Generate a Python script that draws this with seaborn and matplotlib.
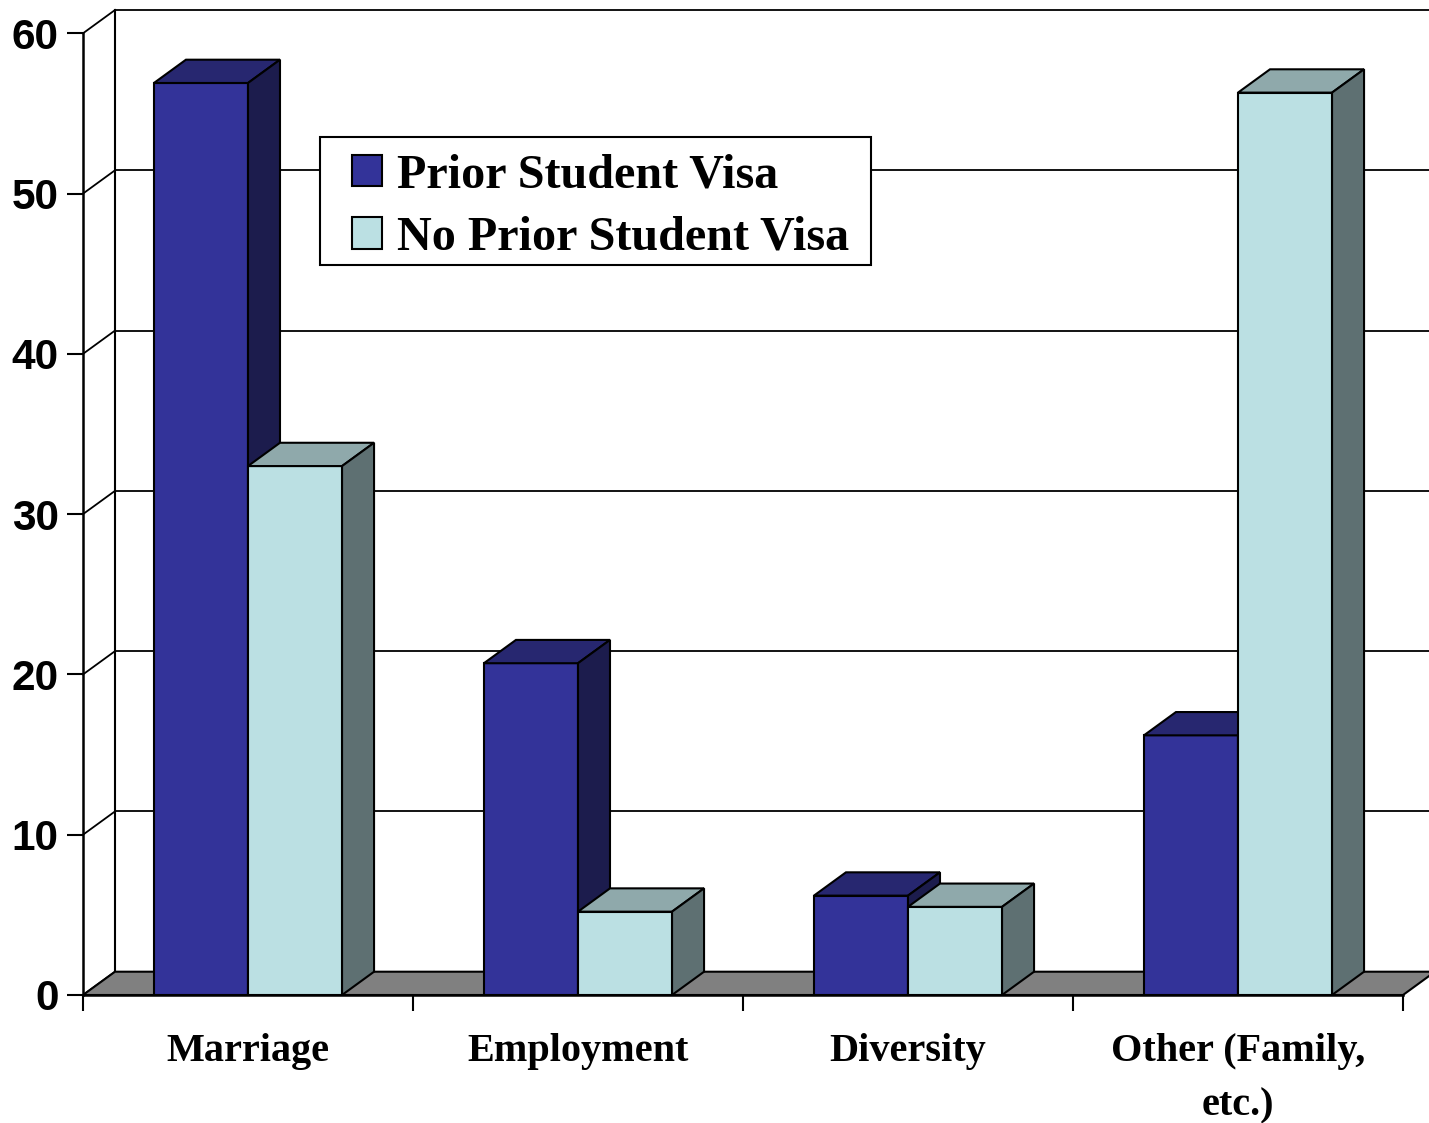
import matplotlib
matplotlib.use("Agg")
import matplotlib.pyplot as plt
from matplotlib.patches import Polygon, Patch, Rectangle
import numpy as np
import pandas as pd
import seaborn as sns

# Chart data: share of green-card holders by admission category (%)
categories = ["Marriage", "Employment", "Diversity", "Other (Family,\netc.)"]
series_names = ["Prior Student Visa", "No Prior Student Visa"]
prior_student_visa = [56.9, 20.7, 6.2, 16.2]
no_prior_student_visa = [33.0, 5.2, 5.5, 56.3]
y_ticks = [0, 10, 20, 30, 40, 50, 60]

# Face colours: front, top (lighter shade), side (darker shade)
front_colors = ["#333399", "#BBE0E3"]
top_colors = ["#272770", "#8FA9AB"]
side_colors = ["#1C1C4D", "#5E7072"]

df = pd.DataFrame({
    "category": categories * 2,
    "series": [series_names[0]] * 4 + [series_names[1]] * 4,
    "value": prior_student_visa + no_prior_student_visa,
})

W, H = 1429, 1123
fig = plt.figure(figsize=(W / 100, H / 100), dpi=100)
ax = fig.add_axes([83 / W, (H - 995) / H, 1320 / W, 961.7 / H])

sns.barplot(data=df, x="category", y="value", hue="series",
            order=categories, hue_order=series_names,
            palette=front_colors, saturation=1, width=0.57, gap=0,
            edgecolor="black", linewidth=1.5, legend=False, ax=ax)

ax.set_xlim(-0.5, 3.5)
ax.set_ylim(0, 60)

# depth offset of the pseudo-3D box (data units)
dx = 32 / 330
dy = 23.3 / 16.03

# back wall gridlines, wall edge and side-wall diagonals
x_end = 3.5 + dx + 0.3
for v in y_ticks:
    ax.plot([-0.5 + dx, x_end], [v + dy, v + dy], color="black", lw=1.3,
            zorder=1, clip_on=False, solid_capstyle="butt")
    ax.plot([-0.5, -0.5 + dx], [v, v + dy], color="black", lw=1.3,
            zorder=1, clip_on=False)
ax.plot([-0.5 + dx, -0.5 + dx], [dy, 60 + dy], color="black", lw=1.5,
        zorder=1, clip_on=False)

# floor
floor = Polygon([(-0.5, 0), (3.5, 0), (3.5 + dx, dy), (-0.5 + dx, dy)],
                closed=True, facecolor="#808080", edgecolor="black",
                lw=1.5, zorder=1.5, clip_on=False)
ax.add_patch(floor)

# top and side faces for each bar, drawn left to right
bars = []
for k, cont in enumerate(ax.containers):
    for rect in cont:
        bars.append((rect.get_x(), rect, k))
bars.sort(key=lambda t: t[0])
for i, (x0, rect, k) in enumerate(bars):
    z = 3 + i * 0.1
    rect.set_zorder(z)
    w = rect.get_width()
    h = rect.get_height()
    top = Polygon([(x0, h), (x0 + w, h), (x0 + w + dx, h + dy), (x0 + dx, h + dy)],
                  closed=True, facecolor=top_colors[k], edgecolor="black",
                  lw=1.5, zorder=z + 0.05, clip_on=False, joinstyle="miter")
    side = Polygon([(x0 + w, 0), (x0 + w + dx, dy), (x0 + w + dx, h + dy), (x0 + w, h)],
                   closed=True, facecolor=side_colors[k], edgecolor="black",
                   lw=1.5, zorder=z + 0.05, clip_on=False, joinstyle="miter")
    ax.add_patch(top)
    ax.add_patch(side)

# spines and ticks
for s in ["top", "right"]:
    ax.spines[s].set_visible(False)
for s in ["left", "bottom"]:
    ax.spines[s].set_linewidth(1.8)
    ax.spines[s].set_color("black")
    ax.spines[s].set_zorder(2)
ax.set_xlabel("")
ax.set_ylabel("")

ax.set_yticks(y_ticks)
ax.set_yticklabels([str(v) for v in y_ticks])
ax.tick_params(axis="y", length=11.5, width=1.5, pad=6, labelsize=30.5, direction="out")
for lbl in ax.get_yticklabels():
    lbl.set_fontfamily("Liberation Sans")
    lbl.set_fontweight("bold")

ax.set_xticks([-0.5, 0.5, 1.5, 2.5, 3.5], minor=True)
ax.set_xticks(range(len(categories)))
ax.set_xticklabels(categories, linespacing=1.6)
ax.tick_params(axis="x", which="minor", length=11.5, width=1.5, direction="out")
ax.tick_params(axis="x", which="major", length=0, pad=27.5, labelsize=29)
for lbl in ax.get_xticklabels():
    lbl.set_fontfamily("Liberation Serif")
    lbl.set_fontweight("bold")
    lbl.set_verticalalignment("top")

# legend box and entries
box = Rectangle((320 / W, 1 - 265 / H), 551 / W, 128 / H, transform=fig.transFigure,
                facecolor="white", edgecolor="black", lw=1.5, zorder=9, clip_on=False)
ax.add_patch(box)
handles = [Patch(facecolor=c, edgecolor="black", lw=1.5) for c in front_colors]
leg = ax.legend(handles, series_names, loc="center left",
                bbox_to_anchor=(352 / W, 1 - 206.5 / H), bbox_transform=fig.transFigure,
                borderaxespad=0, borderpad=0, frameon=False,
                handlelength=0.62, handleheight=0.62,
                handletextpad=0.31, labelspacing=0.39,
                prop={"family": "Liberation Serif", "weight": "bold", "size": 34.7})
leg.set_zorder(10)

fig.savefig("out.png", dpi=100)
